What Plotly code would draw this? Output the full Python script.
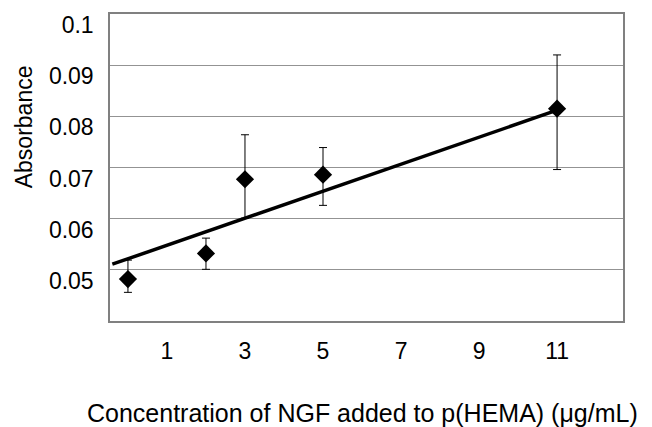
import plotly.graph_objects as go

# Data
conc = [0, 2, 3, 5, 11]
absorbance = [0.0482, 0.0532, 0.0677, 0.0686, 0.0815]
err_plus = [0.0037, 0.0030, 0.0087, 0.0053, 0.0105]
err_minus = [0.0026, 0.0031, 0.0076, 0.0060, 0.0119]

trend_x = [-0.4, 11]
trend_y = [0.0511, 0.0812]

x_ticks = [1, 3, 5, 7, 9, 11]
x_tick_text = ["1", "3", "5", "7", "9", "11"]
y_ticks = [0.05, 0.06, 0.07, 0.08, 0.09, 0.1]
y_tick_text = ["0.05", "0.06", "0.07", "0.08", "0.09", "0.1"]

FONT = "Liberation Sans, Arial, sans-serif"

W, H = 652, 427
plot_l, plot_r, plot_t, plot_b = 110, 623, 12, 321


def px_to_paper_x(px):
    return (px - plot_l) / (plot_r - plot_l)


def px_to_paper_y(py):
    return (plot_b - py) / (plot_b - plot_t)


fig = go.Figure()

fig.add_trace(go.Scatter(
    x=trend_x, y=trend_y, mode="lines",
    line=dict(color="black", width=3.5),
    hoverinfo="skip", showlegend=False,
))

fig.add_trace(go.Scatter(
    x=conc, y=absorbance, mode="markers",
    marker=dict(symbol="diamond", size=14, color="black"),
    error_y=dict(type="data", symmetric=False, array=err_plus,
                 arrayminus=err_minus, color="black", thickness=1, width=4),
    showlegend=False,
))

fig.update_layout(
    width=W, height=H,
    margin=dict(l=plot_l, r=W - plot_r, t=plot_t, b=H - plot_b),
    paper_bgcolor="white", plot_bgcolor="white",
    font=dict(family=FONT, color="black", size=20),
    showlegend=False,
)

fig.add_annotation(
    text="Absorbance", textangle=-90,
    x=px_to_paper_x(24), y=px_to_paper_y(126),
    xref="paper", yref="paper", xanchor="center", yanchor="middle",
    showarrow=False,
    font=dict(size=23, family=FONT, color="black"),
)
fig.add_annotation(
    text="Concentration of NGF added to p(HEMA) (\u03bcg/mL)",
    x=px_to_paper_x(362), y=px_to_paper_y(414),
    xref="paper", yref="paper", xanchor="center", yanchor="middle",
    showarrow=False,
    font=dict(size=25, family=FONT, color="black"),
)

fig.update_xaxes(
    range=[-0.46, 12.69],
    tickvals=x_ticks, ticktext=x_tick_text,
    showgrid=False, zeroline=False,
    showline=True, linecolor="#808080", linewidth=1.5, mirror=True,
    ticks="", ticklabelstandoff=9,
    tickfont=dict(size=23, family=FONT, color="black"),
)
fig.update_yaxes(
    range=[0.04, 0.1],
    tickvals=y_ticks, ticktext=y_tick_text,
    showgrid=True, gridcolor="#939393", gridwidth=1,
    zeroline=False,
    showline=True, linecolor="#808080", linewidth=1.5, mirror=True,
    ticks="", ticklabelstandoff=10, ticklabelshift=11,
    tickfont=dict(size=23, family=FONT, color="black"),
)

fig.write_html("out.html", config={"displayModeBar": False},
               post_script="document.body.style.margin='0';")
